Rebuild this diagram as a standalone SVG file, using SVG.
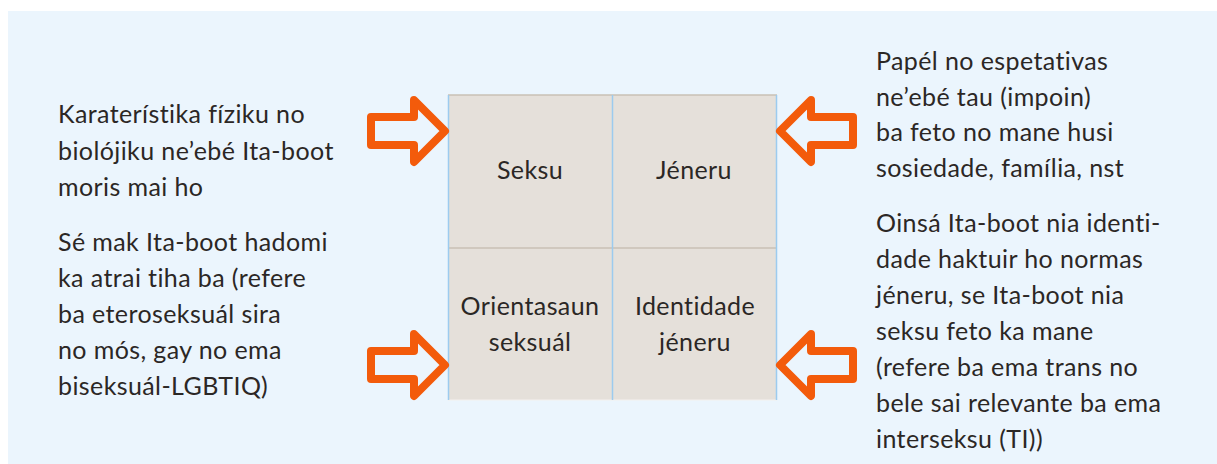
<svg xmlns="http://www.w3.org/2000/svg" width="1217" height="464" viewBox="0 0 1217 464">
<style>
.t{font-family:Lato,"Open Sans","Liberation Sans",sans-serif;font-size:25px;fill:#2b2725;letter-spacing:0.4px;font-variant-ligatures:none;font-feature-settings:"liga" 0}
.c{text-anchor:middle}
.cell{fill:#e5e0da}
.hl{stroke:#c9c0b4;stroke-width:1.5}
.vl{stroke:#9ccbef;stroke-width:1.5}
.arr{fill:none;stroke:#f35b0b;stroke-width:8;stroke-linejoin:round}
</style>
<rect x="0" y="0" width="1217" height="464" fill="#ffffff"/>
<rect x="8" y="11" width="1209" height="453" fill="#ebf5fd"/>
<g id="grid">
<g id="node-seksu"><rect class="cell" x="448" y="95" width="164" height="153"/><text class="t c" x="530" y="179">Seksu</text></g>
<g id="node-jeneru"><rect class="cell" x="612" y="95" width="165" height="153"/><text class="t c" x="694" y="179">Jéneru</text></g>
<g id="node-orientasaun"><rect class="cell" x="448" y="248" width="164" height="152"/><text class="t c" x="530" y="315">Orientasaun</text><text class="t c" x="530" y="351">seksuál</text></g>
<g id="node-identidade"><rect class="cell" x="612" y="248" width="165" height="152"/><text class="t c" x="695" y="315">Identidade</text><text class="t c" x="695" y="351">jéneru</text></g>
<line class="hl" x1="448" y1="95" x2="777" y2="95"/>
<line class="hl" x1="448" y1="248" x2="777" y2="248"/>
<line x1="448" y1="400" x2="777" y2="400" stroke="#f4f1ee" stroke-width="1"/>
<line class="vl" x1="448.5" y1="95" x2="448.5" y2="400"/>
<line class="vl" x1="612.5" y1="95" x2="612.5" y2="400"/>
<line class="vl" x1="776.5" y1="95" x2="776.5" y2="400"/>
</g>
<g id="connectors">
<path class="arr" d="M371,117 L414,117 L414,100 L445,131 L414,162 L414,145 L371,145 Z"/>
<path class="arr" d="M371,351 L414,351 L414,334 L445,365 L414,396 L414,379 L371,379 Z"/>
<path class="arr" d="M853,117 L811,117 L811,100 L780,131 L811,162 L811,145 L853,145 Z"/>
<path class="arr" d="M853,351 L811,351 L811,334 L780,365 L811,396 L811,379 L853,379 Z"/>
</g>
<g id="label-seksu">
<text class="t" x="58" y="123">Karaterístika fíziku no</text>
<text class="t" x="58" y="159.5">biolójiku ne’ebé Ita-boot</text>
<text class="t" x="58" y="196">moris mai ho</text>
</g>
<g id="label-orientasaun">
<text class="t" x="58" y="251">Sé mak Ita-boot hadomi</text>
<text class="t" x="58" y="287">ka atrai tiha ba (refere</text>
<text class="t" x="58" y="323">ba eteroseksuál sira</text>
<text class="t" x="58" y="359">no mós, gay no ema</text>
<text class="t" x="58" y="395">biseksuál-LGBTIQ)</text>
</g>
<g id="label-jeneru">
<text class="t" x="876" y="70">Papél no espetativas</text>
<text class="t" x="876" y="105.5">ne’ebé tau (impoin)</text>
<text class="t" x="876" y="141">ba feto no mane husi</text>
<text class="t" x="876" y="176.5">sosiedade, família, nst</text>
</g>
<g id="label-identidade">
<text class="t" x="876" y="231.5">Oinsá Ita-boot nia identi-</text>
<text class="t" x="876" y="267.5">dade haktuir ho normas</text>
<text class="t" x="876" y="303.5">jéneru, se Ita-boot nia</text>
<text class="t" x="876" y="339.5">seksu feto ka mane</text>
<text class="t" x="876" y="376">(refere ba ema trans no</text>
<text class="t" x="876" y="412">bele sai relevante ba ema</text>
<text class="t" x="876" y="448">interseksu (TI))</text>
</g>
</svg>
